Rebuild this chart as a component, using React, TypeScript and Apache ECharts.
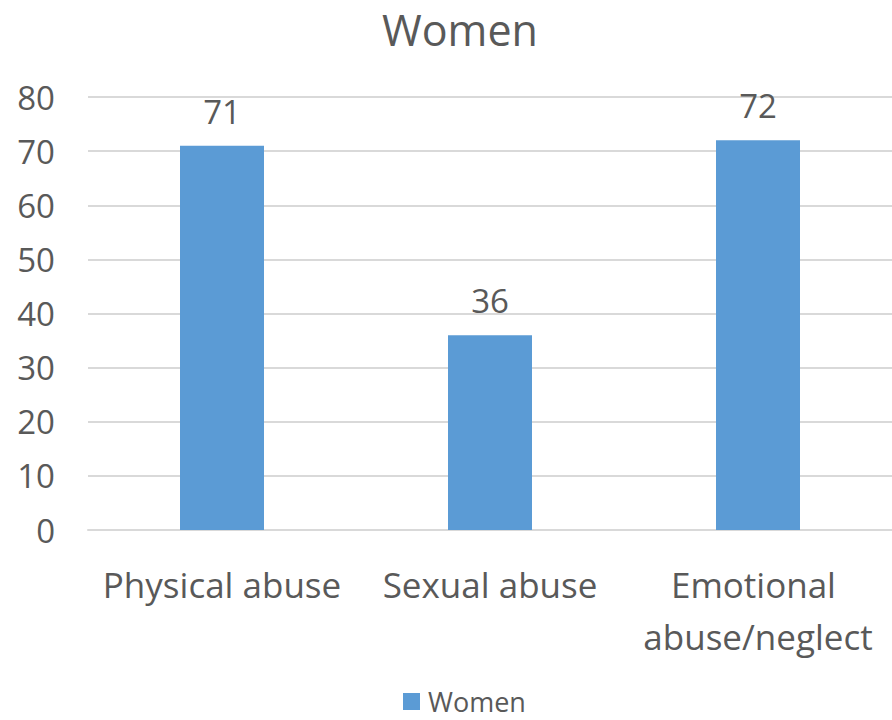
import React, { useEffect, useRef } from "react";
import * as echarts from "echarts";

const categories = ["Physical abuse", "Sexual abuse", "Emotional abuse/neglect"];
const womenValues = [71, 36, 72];
const seriesName = "Women";
const yMin = 0;
const yMax = 80;
const yInterval = 10;

const FONT = "'Open Sans', sans-serif";
const TEXT = "#595959";

export default function App() {
  const ref = useRef<HTMLDivElement>(null);
  useEffect(() => {
    if (!ref.current) return;
    const chart = echarts.init(ref.current, undefined, { renderer: "svg" });
    chart.setOption({
      animation: false,
      title: {
        text: "Women",
        left: 377,
        top: 3,
        textStyle: { fontFamily: FONT, fontSize: 43, fontWeight: "normal", color: TEXT },
      },
      legend: {
        top: 688,
        left: 403,
        padding: 0,
        icon: "rect",
        itemWidth: 17,
        itemHeight: 17,
        itemGap: 10,
        data: [seriesName],
        textStyle: { fontFamily: FONT, fontSize: 27, lineHeight: 27, color: TEXT, padding: [0, 0, 0, 3] },
      },
      grid: { left: 88, right: -3, top: 97, bottom: 190, containLabel: false },
      xAxis: {
        type: "category",
        data: categories,
        axisLine: { show: true, lineStyle: { color: "#D9D9D9", width: 2 } },
        axisTick: { show: false },
        axisLabel: {
          fontFamily: FONT,
          fontSize: 35,
          color: TEXT,
          margin: 28,
          lineHeight: 52,
          width: 255,
          overflow: "break",
          interval: 0,
        },
      },
      yAxis: {
        type: "value",
        min: yMin,
        max: yMax,
        interval: yInterval,
        axisLine: { show: false },
        axisTick: { show: false },
        splitLine: { lineStyle: { color: "#D9D9D9", width: 2 } },
        axisLabel: { fontFamily: FONT, fontSize: 33, color: TEXT, margin: 33 },
      },
      series: [
        {
          name: seriesName,
          type: "bar",
          data: womenValues,
          barWidth: 84,
          itemStyle: { color: "#5B9BD5" },
          label: {
            show: true,
            position: "top",
            distance: 18,
            fontFamily: FONT,
            fontSize: 33,
            color: TEXT,
          },
        },
      ],
    });
    return () => chart.dispose();
  }, []);
  return <div ref={ref} style={{ width: 892, height: 720, position: "absolute", left: 0, top: 0 }} />;
}
